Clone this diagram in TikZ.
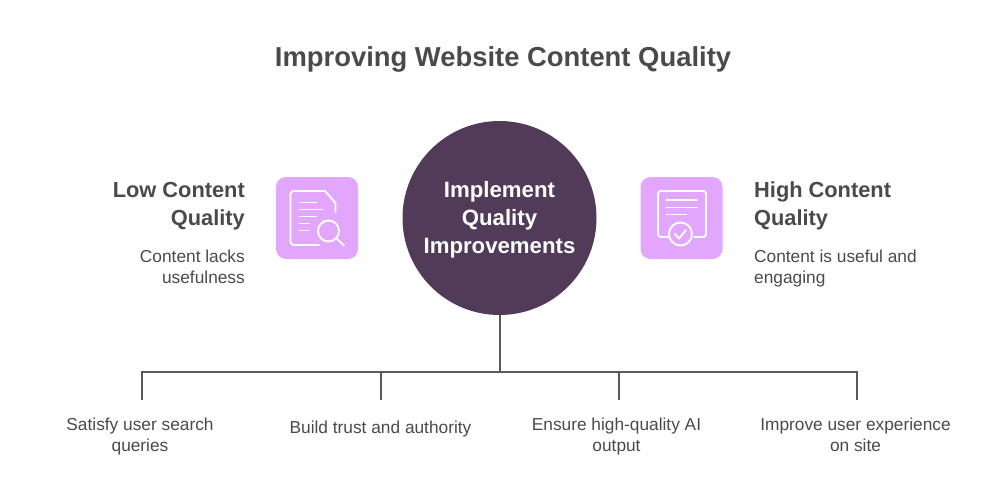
\documentclass[tikz,border=0pt]{standalone}
\usepackage{fontspec}
\setmainfont{Liberation Sans}
\definecolor{txt}{HTML}{4A4A4A}
\definecolor{plum}{HTML}{523B58}
\definecolor{pinkbox}{HTML}{E2A6FC}
\definecolor{linec}{HTML}{595959}
\newcommand{\fs}[2]{\fontsize{#1}{#2}\selectfont}
\tikzset{
  titletext/.style={text=txt,font=\bfseries\fs{27.4}{32},inner sep=0pt},
  headtext/.style={text=txt,font=\bfseries\fs{21.8}{28},inner sep=0pt,align=#1},
  bodytext/.style={text=txt,font=\fs{17.3}{21},inner sep=0pt,align=#1},
  iconbox/.style={fill=pinkbox,rounded corners=10pt,minimum width=82pt,minimum height=82pt,inner sep=0pt},
  iconline/.style={draw=white,line width=1.9pt,line cap=round,line join=round},
  conn/.style={draw=linec,line width=2pt},
}
\begin{document}
\begin{tikzpicture}[x=1pt,y=-1pt]
\useasboundingbox (0,0) rectangle (1003,496);
\node[titletext] (title) at (503,59) {Improving Website Content Quality};
\node[circle,fill=plum,minimum size=194pt,inner sep=0pt] (hub) at (499.5,218) {};
\node[text=white,font=\bfseries\fs{22.2}{28},align=center,inner sep=0pt] (hubt) at (499.5,220) {Implement\\Quality\\Improvements};
\node[iconbox] (lbox) at (317,218) {};
\node[iconbox] (rbox) at (681.5,218) {};
% left icon
\draw[iconline] (335.5,212) -- (335.5,203) -- (325,191) -- (293,191) -- (290.5,193.5) -- (290.5,242.5) -- (293,245) -- (319,245);
\draw[iconline] (299.5,202.5) -- (317,202.5);
\draw[iconline] (299.5,209.5) -- (323,209.5);
\draw[iconline] (299.5,216.5) -- (316,216.5);
\draw[iconline] (299.5,223.5) -- (309,223.5);
\draw[iconline] (299.5,230.5) -- (309,230.5);
\draw[iconline] (328.5,231) circle (10.5pt);
\draw[iconline] (337,239) -- (344,245.5);
% right icon
\draw[iconline] (669,237) -- (660,237) -- (658,235) -- (658,193) -- (660,191) -- (704,191) -- (706,193) -- (706,235) -- (704,237) -- (694,237);
\draw[iconline] (666.5,200) -- (697,200);
\draw[iconline] (666.5,207.5) -- (697,207.5);
\draw[iconline] (666.5,214.5) -- (686,214.5);
\draw[iconline] (680.5,234) circle (11.5pt);
\draw[iconline] (675,234) -- (679,238.5) -- (686,230);
% side text
\node[headtext=right,anchor=north east] (lh) at (245,182) {Low Content\\Quality};
\node[bodytext=right,anchor=north east] (lb) at (245,250) {Content lacks\\usefulness};
\node[headtext=left,anchor=north west] (rh) at (754,181) {High Content\\Quality};
\node[bodytext=left,anchor=north west] (rb) at (754,250) {Content is useful and\\engaging};
% connectors
\coordinate (j0) at (499.5,372);
\coordinate (a) at (142,372); \coordinate (a2) at (142,400);
\coordinate (b) at (380.5,372); \coordinate (b2) at (380.5,400);
\coordinate (c) at (618.5,372); \coordinate (c2) at (618.5,400);
\coordinate (d) at (857,372); \coordinate (d2) at (857,400);
\draw[conn] (hub.south) -- (j0);
\draw[conn,line join=miter] (a2) -- (a) -- (d) -- (d2);
\draw[conn] (b) -- (b2);
\draw[conn] (c) -- (c2);
% bottom labels
\node[bodytext=center,anchor=north] (t1) at (140,418) {Satisfy user search\\queries};
\node[bodytext=center,anchor=north] (t2) at (380.5,421) {Build trust and authority};
\node[bodytext=center,anchor=north] (t3) at (616.5,418) {Ensure high-quality AI\\output};
\node[bodytext=center,anchor=north] (t4) at (855.5,418) {Improve user experience\\on site};
\end{tikzpicture}
\end{document}
